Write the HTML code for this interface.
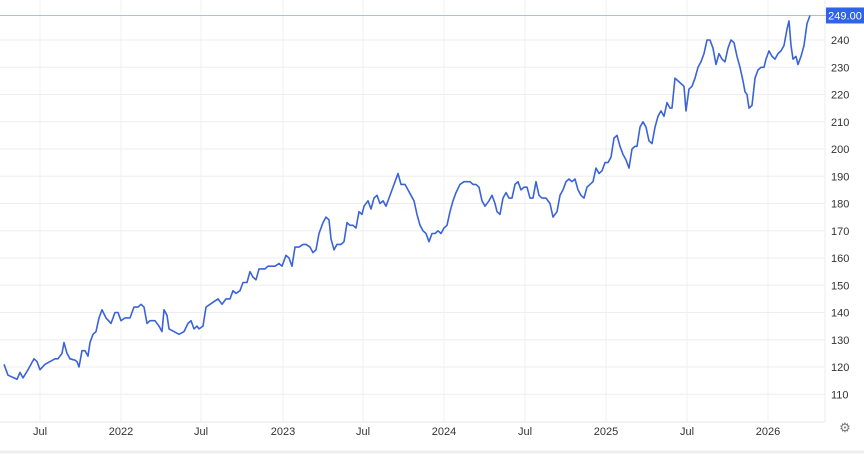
<!DOCTYPE html>
<html><head><style>
body{margin:0;background:#fff;width:864px;height:454px;overflow:hidden;font-family:"Liberation Sans",sans-serif}
</style></head><body>
<svg id="s" width="864" height="454" xmlns="http://www.w3.org/2000/svg" font-family="Liberation Sans, sans-serif" font-size="11" fill="#333"></svg>
<script>
const s=document.getElementById('s');
const Y=v=>40+(240-v)*2.725;
let h='';
for(let v=110;v<=240;v+=10){const y=Y(v);h+=`<line x1="0" x2="825" y1="${y}" y2="${y}" stroke="#eeeeee"/><text x="831" y="${y+4}">${v}</text>`;}
const xs=[[40,'Jul'],[121,'2022'],[201,'Jul'],[283,'2023'],[363,'Jul'],[444,'2024'],[525,'Jul'],[606,'2025'],[687,'Jul'],[768,'2026']];
for(const [x,t] of xs){h+=`<line x1="${x}" x2="${x}" y1="0" y2="422" stroke="#f0f0f0"/><text x="${x}" y="435" text-anchor="middle">${t}</text>`;}
h+=`<line x1="0" x2="825" y1="422" y2="422" stroke="#e6e6e6"/><line x1="825" x2="825" y1="0" y2="422" stroke="#eeeeee"/>`;
h+=`<line x1="0" x2="826" y1="${Y(249)}" y2="${Y(249)}" stroke="#a9bdf0"/>`;
h+=`<rect x="826" y="${Y(249)-8}" width="38" height="16" fill="#2f64e6"/><text x="845" y="${Y(249)+4}" text-anchor="middle" fill="#fff">249.00</text>`;
const d=[4,121,8,117,14,116,17,115.5,20,118,23,116,28,119,34,123,37,122,40,119,45,121,50,122,55,123,58,123,62,125,64,129,67,125,70,123,75,122.5,77,122,79,120,82,126,85,126,88,124,90,129,93,132,96,133,99,138,102,141,106,138,111,136,115,140,118,140,121,137,125,138,130,138,134,142,138,142,141,143,144,142,147,136,150,137,155,137,159,135,162,133,164,141,167,139,169,134,174,133,179,132,184,133,188,136,191,137,194,134,197,135,199,134,203,135,206,142,210,143,214,144,218,145,222,143,226,145,230,145,233,148,236,147,240,148,243,151,247,151,250,155,253,153,256,152,259,156,262,156,265,156,268,157,271,157,275,157,279,158,282,157,286,161,289,160,292,157,295,164,299,164,303,165,306,165,310,164,313,162,316,163,319,169,323,173,326,175,329,174,331,167,334,163,337,165,341,165,344,166,347,173,350,172,353,172,356,171,359,177,362,176,364,179,368,181,371,178,374,182,377,183,380,180,383,181,386,179,389,182,392,185,395,188,398,191,401,187,405,187,408,185,411,183,414,181,417,176,420,172,423,170,426,169,429,166,432,169,435,169,438,170,441,169,444,171,447,172,450,177,453,181,456,184,460,187,464,188,467,188,470,188,473,187,476,187,479,186,482,181,485,179,489,181,492,183,495,180,497,177,500,176,503,182,506,184,509,182,512,182,515,187,518,188,521,185,524,186,527,186,530,182,533,182,536,188,539,183,542,182,546,182,550,180,553,175,557,177,560,183,563,185,566,188,569,189,572,188,575,189,578,185,581,183,584,182,587,186,590,187,593,188,596,193,599,191,602,192,605,195,608,195,611,197,614,204,617,205,620,201,623,198,626,196,629,193,632,200,635,201,637,201,640,208,643,210,646,208,649,203,652,202,655,208,658,212,661,214,664,212,667,217,670,215,672,215,675,226,678,225,681,224,684,223,686,214,689,222,692,223,695,226,698,230,701,232,704,235,707,240,710,240,713,237,716,231,719,235,722,233,725,232,728,237,731,240,734,239,737,234,740,230,743,225,745,221,747,220,749,215,752,216,755,226,758,229,761,230,764,230,766,233,769,236,772,234,775,233,778,235,781,236,784,238,787,244,789,247,791,238,793,233,796,234,798,231,801,234,804,238,807,246,810,249];
let p='';for(let i=0;i<d.length;i+=2)p+=(i?'L':'M')+d[i]+','+Y(d[i+1]).toFixed(1);
h+=`<path d="${p}" fill="none" stroke="#3a63d8" stroke-width="1.6" stroke-linejoin="round"/>`;
h+=`<text x="845" y="432" text-anchor="middle" font-size="13" fill="#777">⚙</text>`;
h+=`<line x1="0" x2="864" y1="452" y2="452" stroke="#eeeeee" stroke-width="3"/>`;
s.innerHTML=h;
</script>
</body></html>
